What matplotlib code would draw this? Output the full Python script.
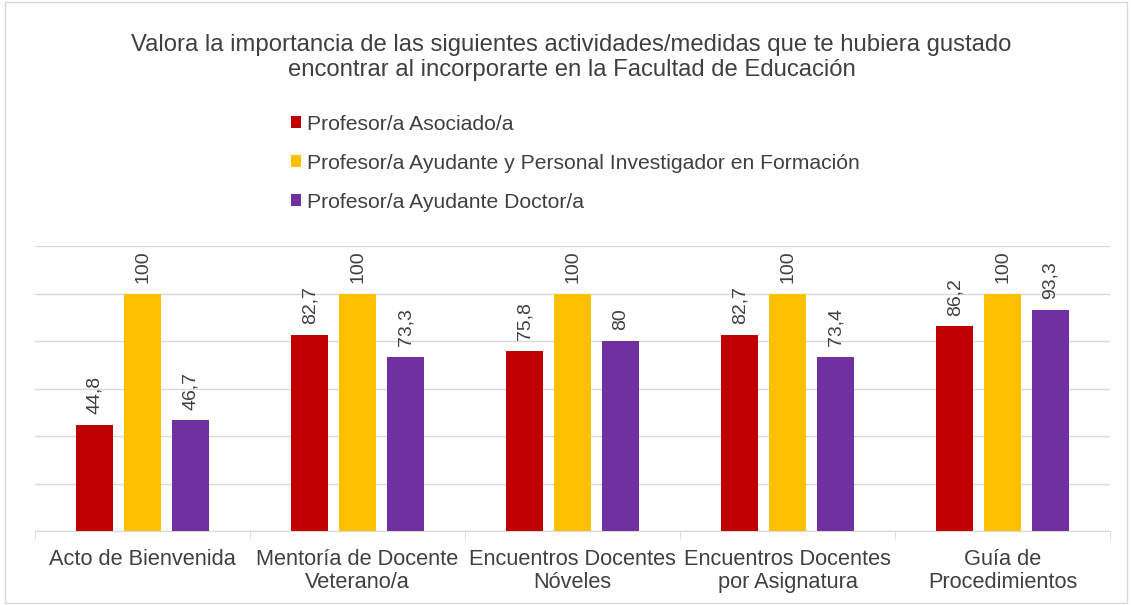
import matplotlib.pyplot as plt
import numpy as np

plt.rcParams['font.family'] = ['Liberation Sans', 'DejaVu Sans']

categories = ["Acto de Bienvenida", "Mentoría de Docente\nVeterano/a",
              "Encuentros Docentes\nNóveles", "Encuentros Docentes\npor Asignatura",
              "Guía de\nProcedimientos"]
series_names = ["Profesor/a Asociado/a",
                "Profesor/a Ayudante y Personal Investigador en Formación",
                "Profesor/a Ayudante Doctor/a"]
asociado = [44.8, 82.7, 75.8, 82.7, 86.2]
ayudante = [100, 100, 100, 100, 100]
doctor = [46.7, 73.3, 80, 73.4, 93.3]
colors = ["#C00000", "#FFC000", "#7030A0"]
text_color = "#404040"

fig = plt.figure(figsize=(11.32, 6.05), dpi=100)
ax = fig.add_axes([0.031, 0.1223, 0.9497, 0.4707])

x = np.arange(len(categories))
width = 0.172
step = 0.223
for i, (vals, name, c) in enumerate(zip([asociado, ayudante, doctor], series_names, colors)):
    pos = x + (i - 1) * step
    ax.bar(pos, vals, width, color=c, label=name, zorder=3)
    for p, v in zip(pos, vals):
        lbl = f"{v:g}".replace(".", ",")
        ax.text(p, v + 4.5, lbl, rotation=90, ha="center", va="bottom",
                fontsize=14, color=text_color)

ax.set_xlim(-0.5, len(categories) - 0.5)
ax.set_ylim(0, 120)
ax.set_yticks(np.arange(0, 121, 20))
ax.tick_params(axis="y", left=False, labelleft=False)
ax.yaxis.grid(True, color="#D9D9D9", linewidth=1, zorder=0)
ax.set_xticks(x)
ax.set_xticklabels(categories, fontsize=15.7, color=text_color, linespacing=1.1)
ax.tick_params(axis="x", length=0, pad=13)
ax.set_xticks(np.arange(-0.5, len(categories)), minor=True)
ax.tick_params(axis="x", which="minor", length=6, color="#D9D9D9")
for s in ["top", "right", "left"]:
    ax.spines[s].set_visible(False)
ax.spines["bottom"].set_color("#D9D9D9")

fig.text(0.505, 0.905, "Valora la importancia de las siguientes actividades/medidas que te hubiera gustado\nencontrar al incorporarte en la Facultad de Educación",
         ha="center", va="center", fontsize=17.2, color=text_color, linespacing=1.17)

handles, labels = ax.get_legend_handles_labels()
fig.legend(handles, labels, loc="upper left", bbox_to_anchor=(0.240, 0.842),
           frameon=False, fontsize=15.2, handlelength=0.5, handleheight=0.5,
           handletextpad=0.25, labelspacing=0.95, labelcolor=text_color)

fig.patches.append(plt.Rectangle((0.004, 0.003), 0.992, 0.994, transform=fig.transFigure,
                                 fill=False, edgecolor="#D9D9D9", linewidth=1))

plt.savefig("out.png", dpi=100)
